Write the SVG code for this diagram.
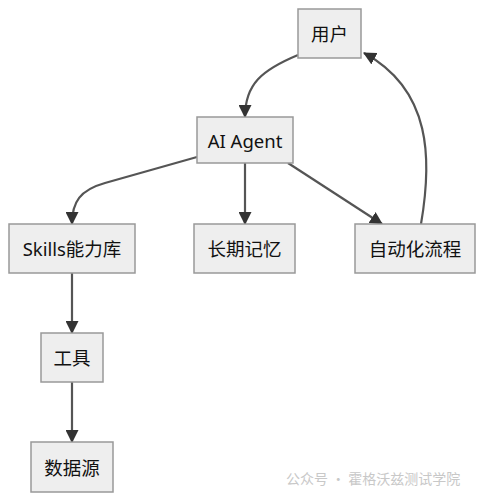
<svg xmlns="http://www.w3.org/2000/svg" width="484" height="501" viewBox="0 0 484 501">
<style>
.node rect{fill:#eeeeee;stroke:#999999;stroke-width:1.5}
.node text{font-family:"Noto Sans","Noto Sans CJK SC",sans-serif;font-size:18.5px;fill:#111;text-anchor:middle;dominant-baseline:central}
.edge{fill:none;stroke:#555555;stroke-width:2.2;marker-end:url(#arr)}
.wm{font-family:"Noto Sans CJK SC",sans-serif;font-size:14px;fill:#c8c8c8}
</style>
<defs>
<marker id="arr" viewBox="0 0 12 12" refX="11" refY="6" markerWidth="13" markerHeight="13" markerUnits="userSpaceOnUse" orient="auto">
<path d="M0,0 L12,6 L0,12 z" fill="#333333"/>
</marker>
</defs>
<rect width="484" height="501" fill="#ffffff"/>
<g id="connectors">
<path class="edge" d="M298 55 C262 70 245 84 245 117"/>
<path class="edge" d="M197 157 L105 183 C80 190 72 202 72 224"/>
<path class="edge" d="M245 163 L245 224"/>
<path class="edge" d="M288 163 L382 224"/>
<path class="edge" d="M421 224 C432 160 432 90 364 53"/>
<path class="edge" d="M72 273 L72 333"/>
<path class="edge" d="M72 382 L72 442"/>
</g>
<g id="node-user" class="node"><rect x="298" y="9" width="63" height="49"/><text x="329.5" y="33.5">用户</text></g>
<g id="node-agent" class="node"><rect x="197" y="117" width="96" height="46"/><text x="245" y="140">AI Agent</text></g>
<g id="node-skills" class="node"><rect x="9" y="224" width="126" height="49"/><text x="72" y="248.5">Skills能力库</text></g>
<g id="node-memory" class="node"><rect x="194" y="224" width="101" height="49"/><text x="244.5" y="248.5">长期记忆</text></g>
<g id="node-auto" class="node"><rect x="355" y="224" width="120" height="49"/><text x="415" y="248.5">自动化流程</text></g>
<g id="node-tool" class="node"><rect x="41" y="333" width="62" height="49"/><text x="72" y="357.5">工具</text></g>
<g id="node-data" class="node"><rect x="31" y="442" width="82" height="50"/><text x="72" y="467">数据源</text></g>
<text class="wm" x="286" y="484">公众号 · 霍格沃兹测试学院</text>
</svg>
